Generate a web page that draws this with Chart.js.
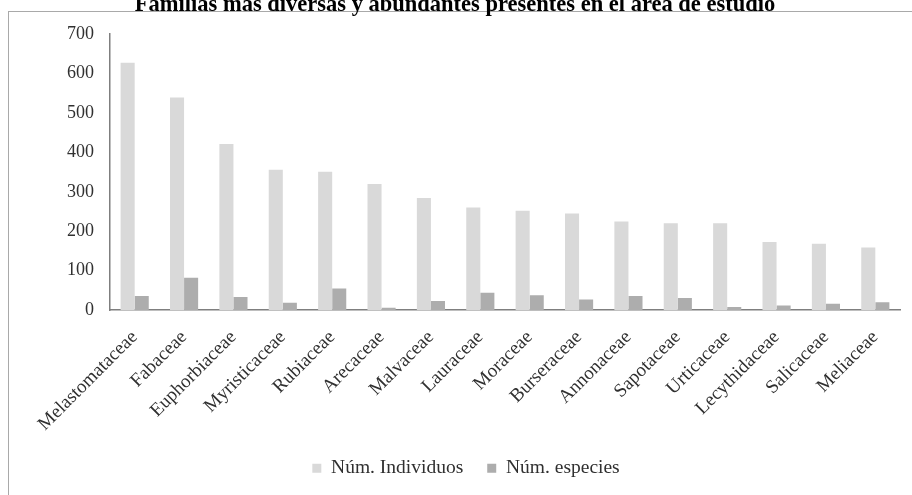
<!DOCTYPE html>
<html>
<head>
<meta charset="utf-8">
<script src="https://cdn.jsdelivr.net/npm/chart.js@4/dist/chart.umd.min.js"></script>
<style>
    html, body { margin: 0; padding: 0; background: #ffffff; overflow: hidden; }
    body { width: 912px; height: 495px; position: relative; }
    .frame { position: absolute; left: 8px; top: 11px; width: 1000px; height: 600px; border: 1px solid #a9a9a9; }
    .wrap { position: absolute; left: 0; top: -8px; width: 912px; height: 503px; }
</style>
</head>
<body>
<div class="frame"></div>
<div class="wrap"><canvas id="familias"></canvas></div>
<script>
const familias = ["Melastomataceae", "Fabaceae", "Euphorbiaceae", "Myristicaceae", "Rubiaceae", "Arecaceae",
    "Malvaceae", "Lauraceae", "Moraceae", "Burseraceae", "Annonaceae", "Sapotaceae", "Urticaceae",
    "Lecythidaceae", "Salicaceae", "Meliaceae"];
const individuos = [627, 539, 421, 356, 351, 320, 284, 260, 252, 245, 225, 220, 220, 173, 168, 159];
const especies = [36, 82, 33, 19, 55, 6, 23, 44, 38, 27, 36, 31, 8, 12, 16, 20];
const yTicks = [0, 100, 200, 300, 400, 500, 600, 700];

const serif = "'Liberation Serif', 'Times New Roman', serif";

// title and legend are not centred on the same point in the original
const nudgeBoxes = {
    id: 'nudgeBoxes',
    afterLayout: function (chart) {
        if (chart.legend) {
            chart.legend.left += 16;
            chart.legend.right += 16;
        }
        if (chart.titleBlock) {
            chart.titleBlock.left += 5;
            chart.titleBlock.right += 5;
        }
    }
};

const config = {
    type: 'bar',
    data: {
        labels: familias,
        datasets: [{
            label: 'Núm. Individuos',
            data: individuos,
            backgroundColor: '#d9d9d9',
            categoryPercentage: 0.57,
            barPercentage: 1.0
        }, {
            label: 'Núm. especies',
            data: especies,
            backgroundColor: '#adadad',
            categoryPercentage: 0.57,
            barPercentage: 1.0
        }]
    },
    options: {
        responsive: true,
        maintainAspectRatio: false,
        animation: false,
        layout: {
            padding: { left: 0, right: 12, top: 0, bottom: 7 }
        },
        scales: {
            x: {
                afterFit: function (scale) {
                    scale.height -= 9;
                },
                grid: { display: false },
                border: { display: true, color: '#7f7f7f', width: 1.5 },
                ticks: {
                    autoSkip: false,
                    minRotation: 45,
                    maxRotation: 45,
                    padding: 8,
                    color: '#303030',
                    font: { family: serif, size: 19 }
                }
            },
            y: {
                min: 0,
                max: 700,
                afterBuildTicks: function (scale) {
                    scale.ticks = yTicks.map(v => ({ value: v }));
                },
                afterFit: function (scale) {
                    scale.width = 110;
                },
                grid: { display: false },
                border: { display: true, color: '#7f7f7f', width: 1.5 },
                ticks: {
                    padding: 8,
                    color: '#303030',
                    font: { family: serif, size: 18 }
                }
            }
        },
        plugins: {
            title: {
                display: true,
                text: 'Familias más diversas y abundantes presentes en el área de estudio',
                color: '#000000',
                font: { family: serif, size: 22.5, weight: 'bold' },
                padding: { top: 0, bottom: 15 }
            },
            legend: {
                position: 'bottom',
                labels: {
                    boxWidth: 9,
                    boxHeight: 9,
                    padding: 24,
                    color: '#303030',
                    font: { family: serif, size: 19.5 }
                }
            },
            tooltip: { enabled: false }
        }
    },
    plugins: [nudgeBoxes]
};

const familiasChart = new Chart(document.getElementById('familias'), config);
</script>
</body>
</html>
